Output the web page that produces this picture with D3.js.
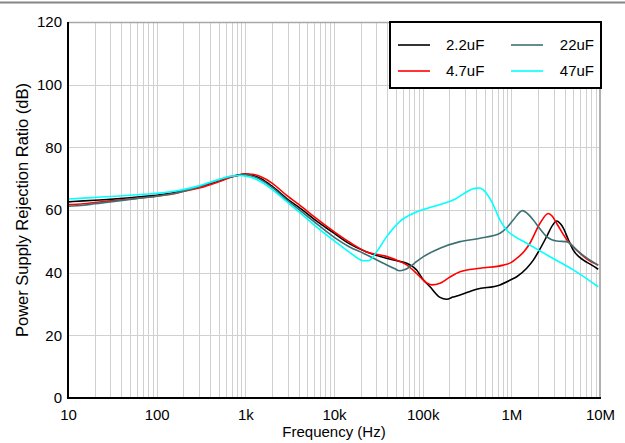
<!DOCTYPE html>
<html><head><meta charset="utf-8">
<script src="https://cdn.jsdelivr.net/npm/d3@7"></script>
<style>body{margin:0;background:#fff}svg{display:block;font-family:"Liberation Sans",Arial,sans-serif}</style>
</head><body>
<script>
const xTicks = [10, 100, 1e3, 1e4, 1e5, 1e6, 1e7];
const xTickLabels = ["10", "100", "1k", "10k", "100k", "1M", "10M"];
const yTicks = [0, 20, 40, 60, 80, 100, 120];
const seriesNames = ["2.2uF", "4.7uF", "22uF", "47uF"];
const seriesColors = ["#000000", "#ff0000", "#3d7073", "#00ffff"];

const lowF = [10, 15, 20, 30, 50, 70, 100, 150, 200, 300, 500, 700, 900, 1000, 1200, 1500, 2000, 3000, 4000];
const blackLow = [62.6, 62.9, 63.1, 63.4, 63.9, 64.3, 64.7, 65.4, 66.2, 67.4, 69.3, 70.6, 71.3, 71.5, 71.1, 70.0, 67.6, 63.4, 60.9];
const redLow   = [61.7, 62.0, 62.4, 62.9, 63.5, 63.9, 64.4, 65.1, 65.9, 67.0, 69.0, 70.5, 71.4, 71.5, 71.4, 70.6, 68.6, 64.4, 61.8];
const tealLow  = [61.2, 61.5, 62.0, 62.6, 63.4, 63.9, 64.4, 65.2, 66.0, 67.4, 69.6, 70.8, 71.2, 71.2, 70.8, 69.6, 67.2, 63.0, 60.2];
const cyanLow  = [63.5, 63.8, 64.0, 64.3, 64.7, 65.0, 65.3, 65.9, 66.5, 67.7, 69.7, 70.8, 71.0, 70.8, 70.3, 69.0, 66.6, 62.4, 59.5];

const blackHiF = [6e3, 1e4, 1.5e4, 2.3e4, 3.9e4, 5.5e4, 6.6e4, 8.5e4, 1e5, 1.21e5, 1.57e5, 1.86e5, 2.2e5, 2.64e5, 4.06e5, 7.45e5, 1e6, 1.15e6, 1.5e6, 1.77e6, 2.1e6, 2.5e6, 2.9e6, 3.25e6, 3.6e6, 3.86e6, 4.4e6, 5e6, 6.5e6, 8e6, 9.55e6];
const blackHi  = [57.0, 52.6, 49.2, 46.7, 44.6, 43.6, 43.0, 40.9, 38.0, 35.5, 32.1, 31.5, 32.2, 32.9, 34.7, 36.1, 37.8, 38.7, 41.5, 44.0, 47.5, 51.5, 55.0, 56.5, 55.5, 54.2, 50.5, 47.2, 44.0, 42.5, 41.1];
const redHiF = [6e3, 1e4, 1.5e4, 2.3e4, 3.9e4, 5.5e4, 6.6e4, 8e4, 9.3e4, 1.1e5, 1.26e5, 1.57e5, 2e5, 2.64e5, 4.44e5, 8.12e5, 1e6, 1.15e6, 1.4e6, 1.62e6, 2.1e6, 2.61e6, 2.9e6, 3.25e6, 4.2e6, 5.46e6, 7e6, 9.55e6];
const redHi  = [57.8, 53.1, 49.7, 46.7, 45.2, 43.6, 42.5, 40.5, 38.7, 36.8, 36.1, 36.6, 38.5, 40.3, 41.4, 42.4, 43.3, 44.6, 46.8, 49.4, 55.7, 58.9, 58.0, 55.7, 50.6, 47.2, 44.5, 42.4];
const tealHiF = [6e3, 9.8e3, 1.5e4, 2.14e4, 3.6e4, 4.8e4, 5.5e4, 6.2e4, 7.2e4, 8.5e4, 1.02e5, 1.57e5, 2.64e5, 4.44e5, 7.45e5, 9e5, 1.05e6, 1.34e6, 1.5e6, 1.77e6, 2.1e6, 2.5e6, 3.25e6, 4.2e6, 5.46e6, 7e6, 9.55e6];
const tealHi  = [56.2, 51.5, 48.2, 46.2, 43.0, 41.3, 40.6, 40.9, 41.9, 43.5, 45.1, 47.8, 49.9, 51.0, 52.6, 54.5, 56.8, 59.8, 59.0, 56.8, 54.0, 51.5, 50.1, 49.9, 47.2, 44.8, 42.4];
const cyanHiF = [6e3, 1e4, 1.5e4, 2.14e4, 2.5e4, 3e4, 3.93e4, 5.5e4, 7.8e4, 1.32e5, 2.21e5, 3.89e5, 4.4e5, 4.83e5, 5.4e5, 6e5, 7.45e5, 8.85e5, 1.1e6, 1.49e6, 2.73e6, 5e6, 9.55e6];
const cyanHi  = [55.2, 50.2, 46.5, 43.8, 43.9, 46.5, 51.5, 56.3, 58.9, 61.1, 63.2, 66.9, 67.0, 66.4, 64.8, 62.7, 56.8, 53.6, 51.5, 49.4, 45.1, 40.9, 35.5];

function build(fl, vl, fh, vh) {
  return fl.map((f, i) => ({f, v: vl[i]})).concat(fh.map((f, i) => ({f, v: vh[i]})));
}
const series = [
  build(lowF, blackLow, blackHiF, blackHi),
  build(lowF, redLow, redHiF, redHi),
  build(lowF, tealLow, tealHiF, tealHi),
  build(lowF, cyanLow, cyanHiF, cyanHi)
];

const W = 625, H = 443;
const L = 68, R = 600, T = 22, B = 398;
const svg = d3.select("body").append("svg").attr("width", W).attr("height", H);

svg.append("line").attr("x1", 0).attr("x2", W).attr("y1", 2.5).attr("y2", 2.5)
  .attr("stroke", "#858585").attr("stroke-width", 2);

const x = d3.scaleLog().domain([10, 1e7]).range([L, R]);
const y = d3.scaleLinear().domain([0, 120]).range([B, T]);

// grid
const minor = [];
for (let d = 10; d < 1e7; d *= 10) for (let k = 1; k <= 10; k++) minor.push(d * k);
const g = svg.append("g");
g.selectAll("line.vx").data(minor.filter(v => v > 10)).enter().append("line")
  .attr("x1", d => Math.round(x(d)) + 0.5).attr("x2", d => Math.round(x(d)) + 0.5)
  .attr("y1", T).attr("y2", B).attr("stroke", "#d0d0d0").attr("stroke-width", 1);
g.selectAll("line.hy").data(yTicks.filter(v => v > 0)).enter().append("line")
  .attr("x1", L).attr("x2", R)
  .attr("y1", d => Math.round(y(d)) + 0.5).attr("y2", d => Math.round(y(d)) + 0.5)
  .attr("stroke", d => d === 120 ? "#a8a8a8" : "#d0d0d0").attr("stroke-width", d => d === 120 ? 1.5 : 1);
g.append("line").attr("x1", R).attr("x2", R).attr("y1", T).attr("y2", B)
  .attr("stroke", "#b0b0b0").attr("stroke-width", 2);

// curves
const line = d3.line().x(d => x(d.f)).y(d => y(d.v)).curve(d3.curveMonotoneX);
svg.append("g").selectAll("path").data(series).enter().append("path")
  .attr("d", line).attr("fill", "none")
  .attr("stroke", (d, i) => seriesColors[i]).attr("stroke-width", 1.6);

// axes
const xAxis = d3.axisBottom(x).tickValues(xTicks).tickFormat((d, i) => xTickLabels[i]).tickSize(0).tickPadding(8);
const yAxis = d3.axisLeft(y).tickValues(yTicks).tickSize(0).tickPadding(6);
const ax = svg.append("g").attr("transform", `translate(0,${B})`).call(xAxis);
const ay = svg.append("g").attr("transform", `translate(${L},0)`).call(yAxis);
[ax, ay].forEach(a => {
  a.select(".domain").remove();
  a.selectAll("text").attr("font-size", 15).attr("fill", "#000")
    .attr("font-family", '"Liberation Sans",Arial,sans-serif');
});
ax.selectAll("text").attr("dy", "0.9em");
svg.append("line").attr("x1", L).attr("x2", L).attr("y1", T).attr("y2", B + 1)
  .attr("stroke", "#000").attr("stroke-width", 2);
svg.append("line").attr("x1", L - 1).attr("x2", R + 1).attr("y1", B).attr("y2", B)
  .attr("stroke", "#000").attr("stroke-width", 2);

// titles
svg.append("text").attr("x", (L + R) / 2).attr("y", 437).attr("text-anchor", "middle")
  .attr("font-size", 15).text("Frequency (Hz)");
svg.append("text").attr("transform", `translate(28,${(T + B) / 2}) rotate(-90)`)
  .attr("text-anchor", "middle").attr("font-size", 16.5).text("Power Supply Rejection Ratio (dB)");

// legend
const lg = svg.append("g");
lg.append("rect").attr("x", 390).attr("y", 22).attr("width", 211).attr("height", 66)
  .attr("fill", "#fff").attr("stroke", "#000").attr("stroke-width", 2);
const pos = [[398, 45], [398, 71], [511, 45], [511, 71]];
seriesNames.forEach((n, i) => {
  const [px, py] = pos[i];
  lg.append("line").attr("x1", px).attr("x2", px + 32).attr("y1", py).attr("y2", py)
    .attr("stroke", seriesColors[i]).attr("stroke-width", 1.6);
  const t = lg.append("text").attr("y", py + 5).attr("font-size", 15).text(n);
  if (i < 2) t.attr("x", 446); else t.attr("x", 594).attr("text-anchor", "end");
});
</script>
</body></html>
